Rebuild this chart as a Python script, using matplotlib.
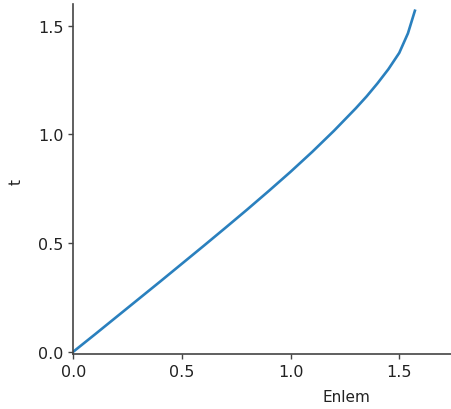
import matplotlib
matplotlib.use("Agg")
import matplotlib.pyplot as plt

enlem = [0.0, 0.1, 0.2, 0.3, 0.4, 0.5, 0.6, 0.7, 0.8, 0.9, 1.0, 1.1, 1.2, 1.3,
         1.35, 1.4, 1.45, 1.5, 1.54, 1.572]
t_vals = [0.0, 0.08, 0.161, 0.242, 0.323, 0.405, 0.487, 0.57, 0.654, 0.74, 0.828,
          0.92, 1.017, 1.12, 1.175, 1.235, 1.30, 1.375, 1.465, 1.569]

xticks = [0.0, 0.5, 1.0, 1.5]
yticks = [0.0, 0.5, 1.0, 1.5]

W, H = 451, 410
fig = plt.figure(figsize=(W / 100, H / 100), dpi=100)
left, right, top, bottom = 73.3, 451, 5, 355.3
ax = fig.add_axes([left / W, (H - bottom) / H, (right - left) / W, (bottom - top) / H])

ax.plot(enlem, t_vals, color="#2a80be", lw=1.9)
ax.set_xlim(0, (right - left) / 217.3)
ax.set_ylim(-0.012, 1.6)
ax.set_xticks(xticks)
ax.set_yticks(yticks)
ax.set_xticklabels([f"{v:.1f}" for v in xticks])
ax.set_yticklabels([f"{v:.1f}" for v in yticks])

for s in ["top", "right"]:
    ax.spines[s].set_visible(False)
for s in ["left", "bottom"]:
    ax.spines[s].set_color("#444444")
    ax.spines[s].set_linewidth(1.2)
ax.tick_params(labelsize=11.5, colors="#444444", labelcolor="#222222", length=3.5, width=1.0)

ax.set_xlabel("Enlem", fontsize=11, color="#222222")
ax.set_ylabel("t", fontsize=11, color="#222222")
ax.xaxis.set_label_coords((346 - left) / (right - left), (bottom - 390) / (bottom - top))
ax.yaxis.set_label_coords((24 - left) / (right - left), (bottom - 182) / (bottom - top))

fig.savefig("out.png", dpi=100)
